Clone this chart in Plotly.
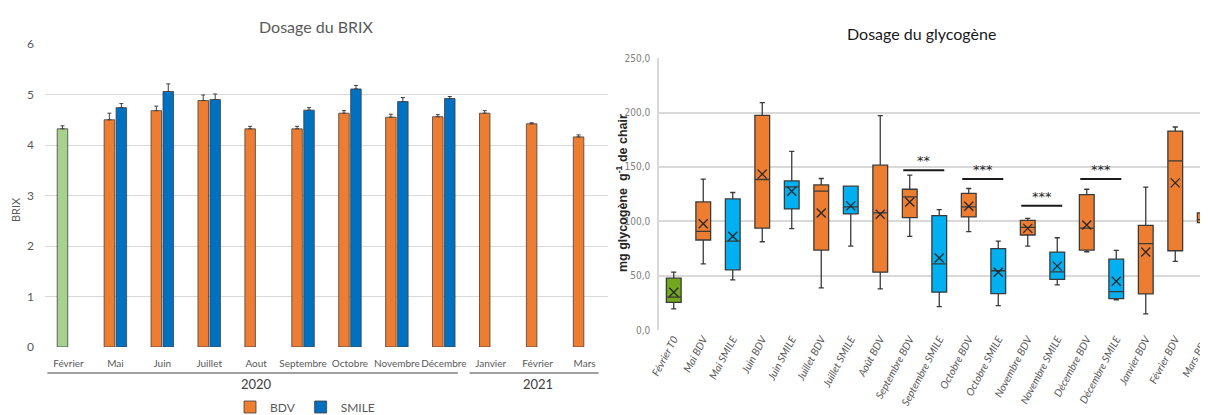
import plotly.graph_objects as go

# window size and the page's default body margin (8px)
WIN_W, WIN_H, OFF = 1208, 415, 8
W, H = WIN_W - OFF, WIN_H - OFF

# ---------------- Left chart: Dosage du BRIX ----------------
months = ["Février", "Mai", "Juin", "Juillet", "Aout", "Septembre", "Octobre",
          "Novembre", "Décembre", "Janvier", "Février", "Mars"]
year_labels = ["2020", "2021"]
year_counts = [9, 3]
# first BDV value (Février 2020, T0) is drawn in green
brix_bdv = [4.32, 4.50, 4.68, 4.88, 4.32, 4.32, 4.63, 4.55, 4.56, 4.63, 4.42, 4.16]
brix_bdv_err = [0.06, 0.13, 0.09, 0.11, 0.05, 0.05, 0.05, 0.06, 0.04, 0.05, 0.02, 0.04]
brix_smile = [None, 4.74, 5.06, 4.90, None, 4.69, 5.11, 4.86, 4.92, None, None, None]
brix_smile_err = [0, 0.08, 0.15, 0.11, 0, 0.05, 0.07, 0.08, 0.04, 0, 0, 0]

# ---------------- Right chart: Dosage du glycogène ----------------
glyco_cats = ["Février T0", "Mai BDV", "Mai SMILE", "Juin BDV", "Juin SMILE",
              "Juillet BDV", "Juillet SMILE", "Août BDV", "Septembre BDV",
              "Septembre SMILE", "Octobre BDV", "Octobre SMILE", "Novembre BDV",
              "Novembre SMILE", "Décembre BDV", "Décembre SMILE", "Janvier BDV",
              "Février BDV", "Mars BDV"]
glyco_group = ["T0", "BDV", "SMILE", "BDV", "SMILE", "BDV", "SMILE", "BDV", "BDV",
               "SMILE", "BDV", "SMILE", "BDV", "SMILE", "BDV", "SMILE", "BDV",
               "BDV", "BDV"]
glyco_min = [19.4, 60.9, 46.2, 81.2, 93.2, 38.8, 77.2, 37.8, 86.2, 21.5, 90.5, 22.5,
             77.2, 41.5, 72.0, 27.7, 14.8, 63.1, 98.3]
glyco_q1 = [25.5, 82.8, 55.4, 93.8, 111.4, 73.5, 106.8, 53.2, 103.4, 34.8, 104.0, 33.5,
            87.4, 46.5, 73.5, 28.9, 33.2, 72.9, 98.8]
glyco_med = [30.2, 90.8, 81.8, 138.5, 131.7, 127.7, 113.2, 107.7, 122.5, 60.9, 113.2, 54.5,
             94.5, 53.5, 93.8, 35.4, 79.4, 155.7, 101.5]
glyco_q3 = [47.7, 117.8, 120.6, 197.5, 137.2, 133.5, 132.3, 151.7, 129.5, 105.2, 125.8, 74.8,
            100.9, 71.7, 124.6, 65.2, 96.3, 183.0, 107.7]
glyco_max = [53.2, 138.8, 126.5, 209.2, 164.3, 139.4, 132.3, 197.2, 142.5, 110.8, 130.2, 81.8,
             102.8, 84.9, 129.5, 73.2, 131.4, 186.8, 111.1]
glyco_mean = [34.8, 97.8, 86.2, 143.4, 127.7, 107.7, 114.2, 106.5, 117.8, 66.2, 113.8, 53.2,
              93.5, 58.8, 96.6, 44.9, 71.7, 135.4, 103.4]

sig_pairs = [("Septembre BDV", "Septembre SMILE"), ("Octobre BDV", "Octobre SMILE"),
             ("Novembre BDV", "Novembre SMILE"), ("Décembre BDV", "Décembre SMILE")]
sig_levels = [147, 139, 114.3, 139]
sig_labels = ["**", "***", "***", "***"]

# ---------------- styles ----------------
ORANGE = "#ED7D31"
BLUE_BAR = "#0070C0"
GREEN_BAR = "#A9D18E"
BOX_COLORS = {"T0": "#72A71E", "BDV": "#ED7D31", "SMILE": "#00B0F0"}
GRID = "#D9D9D9"
GRAY_TXT = "#595959"


def px(x):
    """screen x pixel -> paper fraction"""
    return (x - OFF) / W


def py(y):
    """screen y pixel -> paper fraction"""
    return (WIN_H - y) / H


fig = go.Figure()

xi = list(range(len(months)))

# green T0 bar (same offset group as BDV)
fig.add_trace(go.Bar(
    x=xi[:1], y=brix_bdv[:1], offsetgroup="bdv", showlegend=False,
    marker=dict(color=GREEN_BAR, line=dict(color="#404040", width=0.8)),
    error_y=dict(type="data", array=brix_bdv_err[:1], arrayminus=[0], symmetric=False,
                 color="#404040", thickness=1, width=2),
    xaxis="x", yaxis="y", hoverinfo="y"))
fig.add_trace(go.Bar(
    x=xi[1:], y=brix_bdv[1:], name="BDV", offsetgroup="bdv",
    marker=dict(color=ORANGE, line=dict(color="#404040", width=0.8)),
    error_y=dict(type="data", array=brix_bdv_err[1:], arrayminus=[0] * (len(xi) - 1),
                 symmetric=False, color="#404040", thickness=1, width=2),
    xaxis="x", yaxis="y"))
fig.add_trace(go.Bar(
    x=xi, y=brix_smile, name="SMILE", offsetgroup="smile",
    marker=dict(color=BLUE_BAR, line=dict(color="#404040", width=0.8)),
    error_y=dict(type="data", array=brix_smile_err, arrayminus=[0] * len(xi),
                 symmetric=False, color="#404040", thickness=1, width=2),
    xaxis="x", yaxis="y"))

# box plots
for g, col in BOX_COLORS.items():
    idx = [i for i, gg in enumerate(glyco_group) if gg == g]
    fig.add_trace(go.Box(
        x=[glyco_cats[i] for i in idx],
        q1=[glyco_q1[i] for i in idx],
        median=[glyco_med[i] for i in idx],
        q3=[glyco_q3[i] for i in idx],
        lowerfence=[glyco_min[i] for i in idx],
        upperfence=[glyco_max[i] for i in idx],
        fillcolor=col, line=dict(color="#3a3a3a", width=1.3),
        width=0.5, whiskerwidth=0.35, boxpoints=False,
        showlegend=False, xaxis="x2", yaxis="y2"))

fig.add_trace(go.Scatter(
    x=glyco_cats, y=glyco_mean, mode="markers", showlegend=False,
    marker=dict(symbol="x-thin", size=9, color="#262626",
                line=dict(color="#262626", width=1.3)),
    xaxis="x2", yaxis="y2"))

shapes = []
annotations = []

# significance bars
for (a, b), lvl, lab in zip(sig_pairs, sig_levels, sig_labels):
    ia, ib = glyco_cats.index(a), glyco_cats.index(b)
    x0, x1 = ia - 0.22, ib + 0.17
    shapes.append(dict(type="line", xref="x2", yref="y2", x0=x0, x1=x1, y0=lvl, y1=lvl,
                       line=dict(color="#1a1a1a", width=2)))
    annotations.append(dict(x=(x0 + x1) / 2, y=lvl, xref="x2", yref="y2", text=lab,
                            showarrow=False, xanchor="center", yanchor="bottom", yshift=0,
                            font=dict(size=13, color="#222222", family="DejaVu Sans")))

# year groups on left chart
start = 0
for lab, n in zip(year_labels, year_counts):
    x0 = start - 0.5 + 0.05
    x1 = start + n - 0.5 - 0.2
    shapes.append(dict(type="line", xref="x", yref="paper", x0=x0, x1=x1,
                       y0=py(373), y1=py(373),
                       line=dict(color="#404040", width=1)))
    annotations.append(dict(x=start + (n - 1) / 2, y=py(384), xref="x", yref="paper",
                            text=lab, showarrow=False, xanchor="center", yanchor="middle",
                            font=dict(size=13, color="#404040")))
    start += n

# titles
annotations += [
    dict(x=px(316), y=py(26), xref="paper", yref="paper", text="Dosage du BRIX",
         showarrow=False, xanchor="center", yanchor="middle",
         font=dict(size=16, color=GRAY_TXT)),
    dict(x=px(921), y=py(33), xref="paper", yref="paper", text="Dosage du glycogène",
         showarrow=False, xanchor="center", yanchor="middle",
         font=dict(size=16, color="#1a1a1a")),
    dict(x=px(15), y=py(210), xref="paper", yref="paper", text="BRIX",
         showarrow=False, textangle=-90, xanchor="center", yanchor="middle",
         font=dict(size=11, color=GRAY_TXT)),
    dict(x=px(622), y=py(193), xref="paper", yref="paper",
         text="<b>mg glycogène  g<sup>-1</sup> de chair</b>",
         showarrow=False, textangle=-90, xanchor="center", yanchor="middle",
         font=dict(size=12.5, color="#262626", family="Liberation Sans, Arial")),
]

fig.update_layout(
    template="none",
    width=W, height=H,
    margin=dict(l=0, r=0, t=0, b=0, pad=0, autoexpand=False),
    paper_bgcolor="white", plot_bgcolor="white",
    font=dict(family="Lato", color=GRAY_TXT),
    separators=", ",
    barmode="group", bargap=0.49, bargroupgap=0.12,
    boxmode="overlay",
    showlegend=True,
    legend=dict(orientation="h", x=px(305), xanchor="center", y=py(407),
                yanchor="middle", font=dict(size=12, color=GRAY_TXT),
                itemwidth=30, tracegroupgap=0, bgcolor="rgba(0,0,0,0)"),
    xaxis=dict(domain=[px(45), px(608)], range=[-0.5, len(months) - 0.5],
               tickvals=xi, ticktext=months, showgrid=False, zeroline=False,
               showline=False, ticks="", tickangle=0, ticklabelstandoff=9,
               automargin=False,
               tickfont=dict(size=10, color=GRAY_TXT), anchor="y"),
    yaxis=dict(domain=[py(347), py(44)], range=[0, 6], dtick=1,
               showgrid=True, gridcolor=GRID, gridwidth=1, zeroline=False,
               showline=False, ticks="", ticklabelstandoff=10, automargin=False,
               tickfont=dict(size=12, color=GRAY_TXT), anchor="x"),
    xaxis2=dict(domain=[px(659), 1.0], type="category", categoryorder="array",
                categoryarray=glyco_cats, range=[-0.5, 18.11],
                showgrid=False, zeroline=False, showline=False, ticks="",
                tickangle=-62, automargin=False,
                tickfont=dict(size=10.5, color=GRAY_TXT, style="italic"),
                anchor="y2"),
    yaxis2=dict(domain=[py(330), py(58.3)], range=[0, 250], dtick=50,
                tickformat=".1f", showgrid=True, gridcolor=GRID, gridwidth=1.5,
                zeroline=False, showline=True, linecolor=GRID, linewidth=1.5,
                ticks="", ticklabelstandoff=5, automargin=False,
                tickfont=dict(size=10, color="#7f7f7f",
                              family="Liberation Sans Narrow, DejaVu Sans Condensed, Arial"),
                anchor="x2"),
    shapes=shapes, annotations=annotations,
)

fig.write_html("out.html")
